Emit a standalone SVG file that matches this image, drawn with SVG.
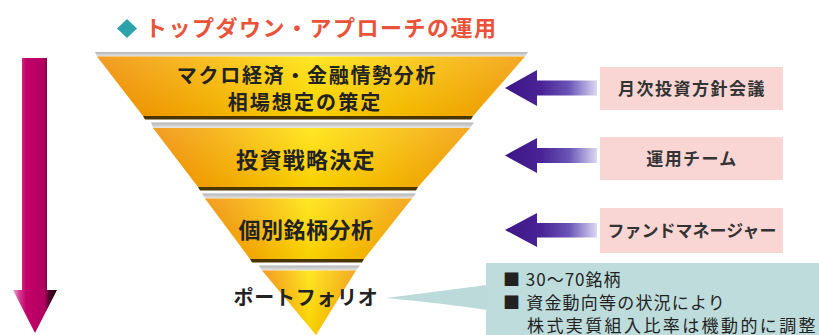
<svg xmlns="http://www.w3.org/2000/svg" width="819" height="335" viewBox="0 0 819 335">
  <defs>
    <linearGradient id="gOrange" x1="0" y1="0" x2="1" y2="0">
      <stop offset="0" stop-color="#f08c00"/>
      <stop offset="0.25" stop-color="#f7b400"/>
      <stop offset="0.5" stop-color="#ffe200"/>
      <stop offset="0.75" stop-color="#f8c000"/>
      <stop offset="1" stop-color="#f29a00"/>
    </linearGradient>
    <linearGradient id="gGloss" x1="0" y1="0" x2="0" y2="1">
      <stop offset="0" stop-color="#ffffff" stop-opacity="0.15"/>
      <stop offset="1" stop-color="#d07000" stop-opacity="0.15"/>
    </linearGradient>
    <linearGradient id="gGray" x1="0" y1="0" x2="0" y2="1">
      <stop offset="0" stop-color="#b4b4b4"/>
      <stop offset="1" stop-color="#e6e6e6"/>
    </linearGradient>
    <linearGradient id="gMagenta" x1="0" y1="0" x2="1" y2="0">
      <stop offset="0" stop-color="#f2a6d4"/>
      <stop offset="0.15" stop-color="#d23a92"/>
      <stop offset="0.3" stop-color="#c4006a"/>
      <stop offset="0.72" stop-color="#b00060"/>
      <stop offset="0.82" stop-color="#50002a"/>
      <stop offset="1" stop-color="#1a0008"/>
    </linearGradient>
    <linearGradient id="gPurple" x1="0" y1="0" x2="1" y2="0">
      <stop offset="0" stop-color="#3c1686"/>
      <stop offset="0.4" stop-color="#4a2496"/>
      <stop offset="0.7" stop-color="#6a56b8"/>
      <stop offset="1" stop-color="#dcd8f2"/>
    </linearGradient>
    <style>
      .band { fill: url(#gOrange); }
      .gloss { fill: url(#gGloss); }
      .top { fill: url(#gGray); }
      .edge { fill: #4a3400; }
      .lbl { font-family: "Noto Sans CJK JP", "Noto Sans", sans-serif; font-weight: 700; fill: #222; text-anchor: middle; }
      .box { fill: #f9d6d3; }
      .boxt { font-family: "Noto Sans CJK JP", "Noto Sans", sans-serif; font-weight: 700; font-size: 17px; fill: #333; text-anchor: middle; }
      .note { font-family: "Noto Sans CJK JP", "Noto Sans", sans-serif; font-weight: 400; font-size: 17px; fill: #222; }
      .parr { fill: url(#gPurple); }
    </style>
  </defs>

  <rect width="819" height="335" fill="#ffffff"/>

  <g id="title">
    <polygon points="127,19 137,28.5 127,38 117,28.5" fill="#2ea2aa"/>
    <text x="145" y="36" font-family="'Noto Sans CJK JP', 'Noto Sans', sans-serif" font-weight="700" font-size="22" letter-spacing="1.5" fill="#e8533a">トップダウン・アプローチの運用</text>
  </g>

  <g id="band1">
    <polygon class="top" points="95,52 528,52 525,56.5 97,56.5"/>
    <polygon class="band" points="97,56.5 525,56.5 473,116 143,116"/>
    <polygon class="gloss" points="97,56.5 525,56.5 473,116 143,116"/>
    <polygon class="edge" points="143,116 473,116 471,119.5 145,119.5"/>
    <text class="lbl" x="307" y="82.5" font-size="20" letter-spacing="1.7">マクロ経済・金融情勢分析</text>
    <text class="lbl" x="305" y="109.5" font-size="20" letter-spacing="2.1">相場想定の策定</text>
  </g>

  <g id="band2">
    <polygon class="top" points="151,122.5 474,122.5 470,128 153,128"/>
    <polygon class="band" points="153,128 470,128 418,187 198,187"/>
    <polygon class="gloss" points="153,128 470,128 418,187 198,187"/>
    <polygon class="edge" points="198,187 418,187 416,190.5 200,190.5"/>
    <text class="lbl" x="306" y="168" font-size="22" letter-spacing="1.3">投資戦略決定</text>
  </g>

  <g id="band3">
    <polygon class="top" points="202,193.5 416,193.5 412,198.5 205,198.5"/>
    <polygon class="band" points="205,198.5 412,198.5 364,259 250,259"/>
    <polygon class="gloss" points="205,198.5 412,198.5 364,259 250,259"/>
    <polygon class="edge" points="250,259 364,259 362,262.5 252,262.5"/>
    <text class="lbl" x="306" y="238" font-size="22" letter-spacing="0.5">個別銘柄分析</text>
  </g>

  <g id="band4">
    <polygon class="top" points="259,265.5 360,265.5 356,270.5 262,270.5"/>
    <polygon class="band" points="262,270.5 356,270.5 316,335"/>
    <polygon class="gloss" points="262,270.5 356,270.5 316,335"/>
    <text class="lbl" x="306" y="305" font-size="20" letter-spacing="0.7">ポートフォリオ</text>
  </g>

  <g id="box1">
    <rect class="box" x="600" y="67" width="183" height="43"/>
    <text class="boxt" x="692" y="95" letter-spacing="1.5">月次投資方針会議</text>
  </g>
  <g id="box2">
    <rect class="box" x="600" y="137" width="183" height="43"/>
    <text class="boxt" x="692" y="165" letter-spacing="1.4">運用チーム</text>
  </g>
  <g id="box3">
    <rect class="box" x="600" y="208" width="183" height="45"/>
    <text class="boxt" x="692" y="237" letter-spacing="0">ファンドマネージャー</text>
  </g>

  <g id="callout">
    <path d="M386,298 Q440,291 487,285 L487,310 Q440,303 386,298 Z" fill="#bcdada"/>
    <rect x="486" y="263" width="333" height="72" fill="#bedcdc"/>
    <text class="note" x="503" y="285.5" letter-spacing="1">■ 30～70銘柄</text>
    <text class="note" x="503" y="308.5" letter-spacing="1.2">■ 資金動向等の状況により</text>
    <text class="note" x="527" y="331.5" letter-spacing="2.4">株式実質組入比率は機動的に調整</text>
  </g>

  <g id="connectors">
    <g id="flow-arrow">
      <polygon points="22,58 47,58 47,290 57,290 35,333 13,290 22,290" fill="url(#gMagenta)"/>
    </g>
    <polygon class="parr" points="505,88 537,70 537,80.5 597,80.5 597,95.5 537,95.5 537,106"/>
    <polygon class="parr" points="505,155.5 537,138 537,148 597,148 597,163 537,163 537,173"/>
    <polygon class="parr" points="505,230 537,213 537,223 597,223 597,237.5 537,237.5 537,247"/>
  </g>
</svg>
